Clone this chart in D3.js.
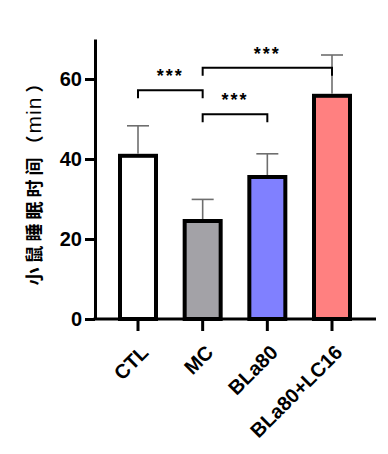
<!DOCTYPE html>
<html><head><meta charset="utf-8">
<script src="https://cdn.jsdelivr.net/npm/d3@7"></script>
<style>body{margin:0;background:#fff}</style>
</head><body><svg id="c" width="388" height="454"></svg>
<script>
const categories = ["CTL", "MC", "BLa80", "BLa80+LC16"];
const means = [40.8, 24.5, 35.5, 55.8];
const errTops = [48.3, 29.9, 41.3, 66.0];
const barColors = ["#ffffff", "#a3a2a7", "#8080ff", "#ff8080"];
const yTicks = [0, 20, 40, 60];
const yTitleParts = ["小鼠睡眠时间", "（", "min", "）"];
// comparisons: [from index, to index, bracket level value, label]
const comparisons = [
  [0, 1, 57.2, "***"],
  [1, 2, 51.2, "***"],
  [1, 3, 62.8, "***"]
];

const svg = d3.select("#c");
const y = d3.scaleLinear().domain([0, 70]).range([319, 39]);
const x = d3.scalePoint().domain(categories).range([138, 332]);
const barW = 36;
const axisX = 95;
const latin = "Liberation Sans, Arial, sans-serif";

// bars
svg.selectAll("rect.bar").data(categories).join("rect")
  .attr("x", d => x(d) - barW / 2)
  .attr("y", (d, i) => y(means[i]))
  .attr("width", barW)
  .attr("height", (d, i) => y(0) - y(means[i]))
  .attr("fill", (d, i) => barColors[i])
  .attr("stroke", "#000").attr("stroke-width", 4);

// error bars
const eg = svg.append("g").attr("stroke", "#6e6e6e").attr("stroke-width", 1.6);
categories.forEach((c, i) => {
  eg.append("line").attr("x1", x(c)).attr("x2", x(c)).attr("y1", y(means[i]) - 2).attr("y2", y(errTops[i]));
  eg.append("line").attr("x1", x(c) - 11).attr("x2", x(c) + 11).attr("y1", y(errTops[i])).attr("y2", y(errTops[i]));
});

// y axis
const ya = svg.append("g").attr("transform", `translate(${axisX},0)`)
  .call(d3.axisLeft(y).tickValues(yTicks).tickSize(10).tickSizeOuter(0).tickPadding(3));
ya.select(".domain").attr("stroke-width", 3);
ya.selectAll(".tick line").attr("stroke-width", 3);
ya.selectAll("text").attr("font-family", latin)
  .attr("font-weight", "bold").attr("font-size", 20).attr("fill", "#000");

// x axis
svg.append("line").attr("x1", axisX - 1.5).attr("x2", 376).attr("y1", y(0)).attr("y2", y(0))
  .attr("stroke", "#000").attr("stroke-width", 3);
svg.selectAll("line.xt").data(categories).join("line").attr("class", "xt")
  .attr("x1", d => x(d)).attr("x2", d => x(d)).attr("y1", y(0)).attr("y2", y(0) + 12)
  .attr("stroke", "#000").attr("stroke-width", 3);
svg.selectAll("text.xl").data(categories).join("text").attr("class", "xl")
  .attr("transform", d => `translate(${x(d) + 8},${y(0) + 31}) rotate(-45)`)
  .attr("text-anchor", "end").attr("dominant-baseline", "middle")
  .attr("font-family", latin).attr("font-weight", "bold")
  .attr("font-size", 20).text(d => d);

// y title
const yt = svg.append("text").attr("transform", "translate(33,180) rotate(-90)")
  .attr("text-anchor", "middle").attr("dominant-baseline", "central")
  .attr("font-family", "Noto Sans CJK SC, sans-serif").attr("font-weight", "bold")
  .attr("font-size", 18);
yt.append("tspan").attr("letter-spacing", 4).text(yTitleParts[0]);
yt.append("tspan").attr("letter-spacing", 2).text(yTitleParts[1]);
yt.append("tspan").attr("font-family", latin).attr("font-weight", "normal").attr("font-size", 21).attr("letter-spacing", 1).text(yTitleParts[2]);
yt.append("tspan").attr("dx", 4).text(yTitleParts[3]);

// significance brackets
const bg = svg.append("g");
comparisons.forEach(([a, b, lv, lab]) => {
  const x1 = x(categories[a]), x2 = x(categories[b]), yy = y(lv);
  bg.append("path").attr("d", `M${x1},${yy + 8}V${yy}H${x2}V${yy + 8}`)
    .attr("fill", "none").attr("stroke", "#000").attr("stroke-width", 2);
  bg.append("text").attr("x", (x1 + x2) / 2).attr("y", yy - 8)
    .attr("text-anchor", "middle").attr("font-family", latin)
    .attr("font-weight", "bold").attr("font-size", 18).attr("letter-spacing", 2).text(lab);
});
</script></body></html>
